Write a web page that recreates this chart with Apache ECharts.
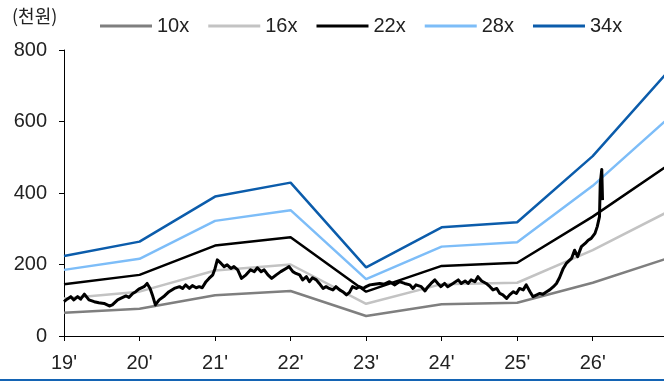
<!DOCTYPE html>
<html>
<head>
<meta charset="utf-8">
<script src="https://cdn.jsdelivr.net/npm/echarts@6/dist/echarts.min.js"></script>
<style>
html,body{margin:0;padding:0;background:#fff;}
#chart{width:664px;height:383px;}
</style>
</head>
<body>
<div id="chart"></div>
<script>
// x positions are fractional years
const bandYears = [2019, 2020, 2021, 2022, 2023, 2024, 2025, 2026, 2027];
const band10x = [65, 76, 114, 126, 56, 89, 93, 149, 218];
const band16x = [105, 124, 183, 200, 90, 145, 149, 240, 348];
const band22x = [145, 171, 253, 276, 124, 196, 205, 334, 478];
const band28x = [185, 216, 322, 352, 159, 250, 262, 420, 609];
const band34x = [224, 264, 390, 429, 192, 304, 318, 503, 740];

const priceX = [
  2019.00,2019.04,2019.09,2019.13,2019.18,2019.22,2019.27,2019.33,2019.40,2019.46,
  2019.53,2019.60,2019.64,2019.71,2019.75,2019.82,2019.86,2019.91,2019.95,2019.99,
  2020.06,2020.10,2020.14,2020.17,2020.21,2020.26,2020.33,2020.39,2020.46,2020.53,
  2020.57,2020.61,2020.66,2020.70,2020.75,2020.79,2020.83,2020.88,2020.92,2020.97,
  2021.00,2021.03,2021.08,2021.12,2021.16,2021.21,2021.25,2021.30,2021.35,2021.41,
  2021.47,2021.52,2021.56,2021.61,2021.65,2021.70,2021.75,2021.81,2021.87,2021.94,
  2021.98,2022.03,2022.07,2022.12,2022.16,2022.21,2022.25,2022.29,2022.34,2022.38,
  2022.43,2022.47,2022.51,2022.56,2022.60,2022.65,2022.69,2022.74,2022.78,2022.82,
  2022.87,2022.91,2022.96,2023.00,2023.05,2023.11,2023.18,2023.24,2023.31,2023.38,
  2023.44,2023.51,2023.58,2023.62,2023.66,2023.73,2023.78,2023.82,2023.86,2023.91,
  2023.95,2023.99,2024.04,2024.08,2024.15,2024.22,2024.26,2024.31,2024.35,2024.39,
  2024.44,2024.48,2024.53,2024.59,2024.64,2024.68,2024.73,2024.77,2024.81,2024.86,
  2024.90,2024.95,2024.99,2025.03,2025.08,2025.12,2025.17,2025.21,2025.26,2025.30,
  2025.34,2025.39,2025.43,2025.48,2025.52,2025.56,2025.61,2025.65,2025.72,2025.76,
  2025.80,2025.85,2025.90,2025.94,2025.98,2026.03,2026.06,2026.09,2026.10,2026.12,
  2026.13
];
const priceV = [
  96,103,110,101,110,103,117,101,96,93,
  91,84,87,101,105,112,108,119,124,131,
  138,147,133,115,87,101,112,124,133,138,
  133,143,133,141,135,138,135,152,161,171,
  189,213,203,194,199,189,194,185,161,171,
  185,180,191,180,185,171,161,171,180,189,
  194,180,175,171,157,166,152,163,157,147,
  133,138,133,129,138,129,124,115,122,138,
  133,138,133,138,143,145,147,145,152,143,
  152,147,143,133,143,138,126,138,147,157,
  147,138,147,138,147,157,147,154,147,157,
  152,166,154,147,138,129,133,119,115,105,
  115,124,119,133,129,143,124,110,115,119,
  117,124,129,138,147,163,189,203,217,240,
  222,250,259,268,273,287,306,334,427,466,
  380
];
const xTickYears = [2019, 2020, 2021, 2022, 2023, 2024, 2025, 2026];

const pair = (xs, ys) => xs.map((x, i) => [x, ys[i]]);
const bands = [
  {name: '10x', data: band10x, color: '#7f7f7f'},
  {name: '16x', data: band16x, color: '#c3c3c3'},
  {name: '22x', data: band22x, color: '#000000'},
  {name: '28x', data: band28x, color: '#7dbdf8'},
  {name: '34x', data: band34x, color: '#0b5cab'}
];

const chart = echarts.init(document.getElementById('chart'), null, {renderer: 'canvas'});
const series = bands.map(b => ({
  name: b.name, type: 'line', data: pair(bandYears, b.data),
  symbol: 'none', clip: true, z: 2,
  lineStyle: {color: b.color, width: 2.5}, itemStyle: {color: b.color}
}));
series.push({
  name: 'price', type: 'line', data: pair(priceX, priceV),
  symbol: 'none', clip: true, z: 5,
  lineStyle: {color: '#000', width: 3, join: 'round'}, itemStyle: {color: '#000'}
});

chart.setOption({
  animation: false,
  backgroundColor: '#fff',
  title: {
    text: '(천원)', left: 12, top: 7, padding: 0,
    textStyle: {fontFamily: 'Noto Sans CJK KR', fontSize: 18, fontWeight: 'normal', color: '#222'}
  },
  legend: {
    data: bands.map(b => b.name),
    icon: 'rect', left: 100, top: 16, padding: 0,
    itemWidth: 52, itemHeight: 3, itemGap: 19,
    textStyle: {fontFamily: 'Liberation Sans', fontSize: 20, color: '#222'}
  },
  grid: {left: 64, right: 0, top: 50, bottom: 47},
  xAxis: {
    type: 'value', min: 2019, max: 2026.944, interval: 1,
    splitLine: {show: false},
    axisLine: {lineStyle: {color: '#000', width: 1}},
    axisTick: {show: true, length: 5, lineStyle: {color: '#000'}},
    axisLabel: {
      showMaxLabel: false, margin: 17,
      fontFamily: 'Liberation Sans', fontSize: 20, color: '#222',
      formatter: v => xTickYears.indexOf(v) >= 0 ? String(v % 100) + "'" : ''
    }
  },
  yAxis: {
    type: 'value', min: 0, max: 800, interval: 200,
    splitLine: {show: false},
    axisLine: {show: true, lineStyle: {color: '#000', width: 1}},
    axisTick: {show: true, length: 5, lineStyle: {color: '#000'}},
    axisLabel: {margin: 17, fontFamily: 'Liberation Sans', fontSize: 20, color: '#222'}
  },
  graphic: [{
    type: 'rect', left: 0, top: 379, silent: true,
    shape: {width: 664, height: 2}, style: {fill: '#1464b4'}
  }],
  series: series
});
</script>
</body>
</html>
